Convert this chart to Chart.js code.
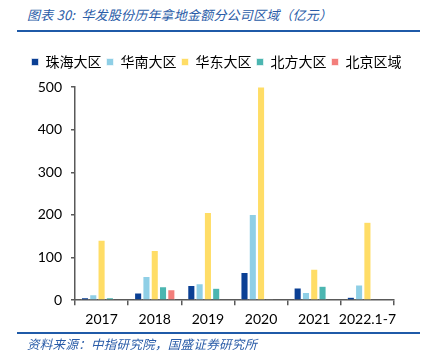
<!DOCTYPE html>
<html lang="zh">
<head>
<meta charset="utf-8">
<title>华发股份历年拿地金额分公司区域</title>
<script src="https://cdn.jsdelivr.net/npm/chart.js@4.4.0/dist/chart.umd.min.js"></script>
<style>
  body { margin: 0; background: #fff; }
  #page { position: relative; width: 433px; height: 354px; overflow: hidden; }
  .note { position: absolute; font-family: "Noto Sans CJK SC", sans-serif; font-style: italic; color: #2a5ca8; white-space: nowrap; }
  #title { left: 27px; top: 5px; font-size: 13px; letter-spacing: 0.2px; }
  #source { left: 27px; top: 334px; font-size: 12.5px; letter-spacing: 0.3px; }
  .rule { position: absolute; left: 17px; width: 403px; height: 2px; background: #1f5aa8; }
  #chartbox { position: absolute; left: 0; top: 50px; width: 433px; height: 284px; }
</style>
</head>
<body>
<div id="page">
  <div id="title" class="note">图表 30:&nbsp; 华发股份历年拿地金额分公司区域（亿元）</div>
  <div class="rule" style="top:30px"></div>
  <div id="chartbox"><canvas id="chart"></canvas></div>
  <div class="rule" style="top:332px"></div>
  <div id="source" class="note">资料来源：中指研究院，国盛证券研究所</div>
</div>
<script>
// data (亿元)
var years = ["2017", "2018", "2019", "2020", "2021", "2022.1-7"];
var zhuhai = [6, 17, 35, 65, 29, 7];
var huanan = [13, 56, 39, 201, 18, 36];
var huadong = [141, 117, 206, 500, 73, 183];
var beifang = [6, 32, 28, 1, 33, 0];
var beijing = [0, 25, 0, 0, 0, 0];
var yTicks = [0, 100, 200, 300, 400, 500];

var names = ["珠海大区", "华南大区", "华东大区", "北方大区", "北京区域"];
var colors = ["#0a3f94", "#8fcfe6", "#ffdd66", "#4cb6b1", "#f37e7b"];
var series = [zhuhai, huanan, huadong, beifang, beijing];

var datasets = [];
for (var i = 0; i < series.length; i++) {
  datasets.push({
    label: names[i],
    data: series[i],
    backgroundColor: colors[i],
    borderColor: "#ffffff",
    borderWidth: 0.6,
    categoryPercentage: 0.78,
    barPercentage: 0.88
  });
}

var numFont = { family: "Lato, 'Noto Sans', sans-serif", size: 14 };

// extra room under the legend
var legendGap = {
  id: "legendGap",
  beforeInit: function (chart) {
    var fit = chart.legend.fit;
    chart.legend.fit = function () {
      fit.call(this);
      this.height += 8;
    };
  }
};

new Chart(document.getElementById("chart"), {
  type: "bar",
  data: { labels: years, datasets: datasets },
  plugins: [legendGap],
  options: {
    responsive: true,
    maintainAspectRatio: false,
    animation: false,
    layout: { padding: 0 },
    plugins: {
      legend: {
        position: "top",
        labels: {
          font: { family: "'Noto Sans CJK SC', sans-serif", size: 14 },
          color: "#000",
          boxWidth: 7,
          boxHeight: 7,
          padding: 5
        }
      },
      tooltip: { enabled: false }
    },
    scales: {
      x: {
        grid: { display: true, drawOnChartArea: false, offset: true, tickLength: 5, color: "#595959", lineWidth: 1.5 },
        border: { color: "#595959", width: 1.5 },
        ticks: { font: numFont, color: "#000", padding: 6, maxRotation: 0, autoSkip: false }
      },
      y: {
        min: 0,
        max: 500,
        afterBuildTicks: function (axis) {
          axis.ticks = yTicks.map(function (v) { return { value: v }; });
        },
        afterFit: function (s) { s.width = 75; },
        grid: { display: true, drawOnChartArea: false, tickLength: 4, color: "#595959", lineWidth: 1.5 },
        border: { color: "#595959", width: 1.5 },
        ticks: { font: numFont, color: "#000", padding: 9 }
      },
      yRight: {
        position: "right",
        display: true,
        afterFit: function (s) { s.width = 39; },
        grid: { display: false },
        border: { display: false },
        ticks: { display: false }
      }
    }
  }
});
</script>
</body>
</html>
